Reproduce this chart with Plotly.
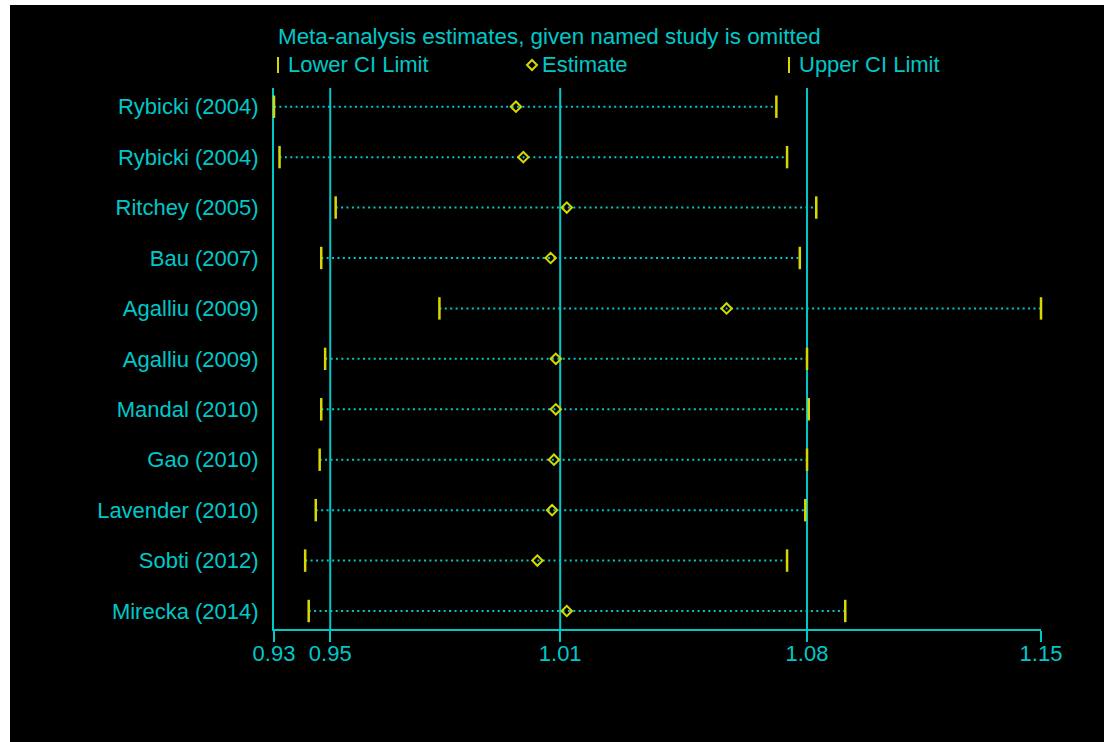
import math
import plotly.graph_objects as go

# Influence analysis: pooled estimate recomputed with each named study left out
studies = ["Rybicki (2004)", "Rybicki (2004)", "Ritchey (2005)", "Bau (2007)",
           "Agalliu (2009)", "Agalliu (2009)", "Mandal (2010)", "Gao (2010)",
           "Lavender (2010)", "Sobti (2012)", "Mirecka (2014)"]
lower = [0.9349, 0.9363, 0.9506, 0.9469, 0.9776, 0.9479, 0.9469, 0.9465, 0.9455, 0.9428, 0.9437]
estimate = [0.9980, 1.0000, 1.0118, 1.0074, 1.0564, 1.0088, 1.0088, 1.0083, 1.0078, 1.0038, 1.0118]
upper = [1.0707, 1.0738, 1.0823, 1.0775, 1.1500, 1.0796, 1.0801, 1.0796, 1.0791, 1.0738, 1.0908]

# Pooled lower CI, pooled estimate, pooled upper CI (full data set)
pooled = [0.9492, 1.0100, 1.0796]
tick_values = [min(lower)] + pooled + [max(upper)]
tick_labels = ["0.93", "0.95", "1.01", "1.08", "1.15"]

title_text = "Meta-analysis estimates, given named study is omitted"
key_labels = ["Lower CI Limit", "Estimate", "Upper CI Limit"]

CYAN = "#00c8c8"
YELLOW = "#d8d800"
FONT = "Liberation Sans, Arial, sans-serif"
FS = 22

W, H = 1104, 742
ML, MR, MT, MB = 274, 63, 88, 113
PW, PH = W - ML - MR, H - MT - MB


def paper_x(px):
    return (px - ML) / PW


def paper_y(py):
    return (H - MB - py) / PH


rows = list(range(1, len(studies) + 1))

fig = go.Figure()

# dotted CI span for each omitted-study estimate
for r, lo, hi in zip(rows, lower, upper):
    fig.add_trace(go.Scatter(
        x=[lo, hi], y=[r, r], mode="lines",
        line=dict(color=CYAN, width=2, dash="2px,3.4px"),
        hoverinfo="skip", showlegend=False))

fig.add_trace(go.Scatter(
    x=lower, y=rows, mode="markers", name=key_labels[0], cliponaxis=False,
    marker=dict(symbol="line-ns", size=16, line=dict(color=YELLOW, width=2.5)),
    showlegend=False))
fig.add_trace(go.Scatter(
    x=upper, y=rows, mode="markers", name=key_labels[2], cliponaxis=False,
    marker=dict(symbol="line-ns", size=16, line=dict(color=YELLOW, width=2.5)),
    showlegend=False))
fig.add_trace(go.Scatter(
    x=estimate, y=rows, mode="markers", name=key_labels[1], cliponaxis=False,
    marker=dict(symbol="diamond-open", size=8, color=YELLOW,
                line=dict(color=YELLOW, width=2)),
    showlegend=False))

shapes = [
    # black chart canvas with a thin white strip at the top and left
    dict(type="rect", xref="paper", yref="paper", layer="below",
         x0=paper_x(10), x1=paper_x(W + 20), y0=paper_y(H + 20), y1=paper_y(5),
         fillcolor="black", line=dict(width=0)),
]
# reference lines at the pooled values
for v in pooled:
    shapes.append(dict(type="line", xref="x", yref="paper", layer="below",
                       x0=v, x1=v, y0=0, y1=1, line=dict(color=CYAN, width=2)))

# key glyphs
for kx in (278, 789):
    shapes.append(dict(type="line", xref="paper", yref="paper",
                       x0=paper_x(kx), x1=paper_x(kx), y0=paper_y(57), y1=paper_y(73),
                       line=dict(color=YELLOW, width=2)))
dx, dy, cx, cy = 5, 5, 532, 65
shapes.append(dict(
    type="path", xref="paper", yref="paper",
    path=(f"M {paper_x(cx)},{paper_y(cy - dy)} L {paper_x(cx + dx)},{paper_y(cy)} "
          f"L {paper_x(cx)},{paper_y(cy + dy)} L {paper_x(cx - dx)},{paper_y(cy)} Z"),
    line=dict(color=YELLOW, width=2)))

annotations = [dict(text=title_text, xref="paper", yref="paper",
                    x=paper_x(276), y=paper_y(37), xanchor="left", yanchor="middle",
                    showarrow=False, font=dict(family=FONT, size=22.4, color=CYAN))]
for lab, kx in zip(key_labels, (286, 540, 797)):
    annotations.append(dict(text=lab, xref="paper", yref="paper",
                            x=paper_x(kx), y=paper_y(65), xanchor="left", yanchor="middle",
                            showarrow=False, font=dict(family=FONT, size=FS, color=CYAN)))

row_step = 50.43
fig.update_layout(
    width=W, height=H, autosize=False,
    margin=dict(l=ML, r=MR, t=MT, b=MB, pad=0),
    paper_bgcolor="white", plot_bgcolor="black",
    shapes=shapes, annotations=annotations,
    showlegend=False,
    xaxis=dict(type="log",
               range=[math.log10(min(lower)), math.log10(max(upper))],
               tickvals=tick_values, ticktext=tick_labels,
               showgrid=False, zeroline=False,
               showline=True, linecolor=CYAN, linewidth=2,
               ticks="outside", ticklen=11, tickwidth=2, tickcolor=CYAN,
               ticklabelstandoff=-7,
               tickfont=dict(family=FONT, size=FS, color=CYAN),
               layer="below traces", fixedrange=True),
    yaxis=dict(range=[len(studies) + (629 - 611) / row_step,
                      1 - (106.7 - 88) / row_step],
               tickvals=rows, ticktext=studies,
               showgrid=False, zeroline=False,
               showline=True, linecolor=CYAN, linewidth=2,
               ticks="", ticklabelstandoff=9,
               tickfont=dict(family=FONT, size=FS, color=CYAN),
               layer="below traces", fixedrange=True),
)

fig.write_html("out.html")
